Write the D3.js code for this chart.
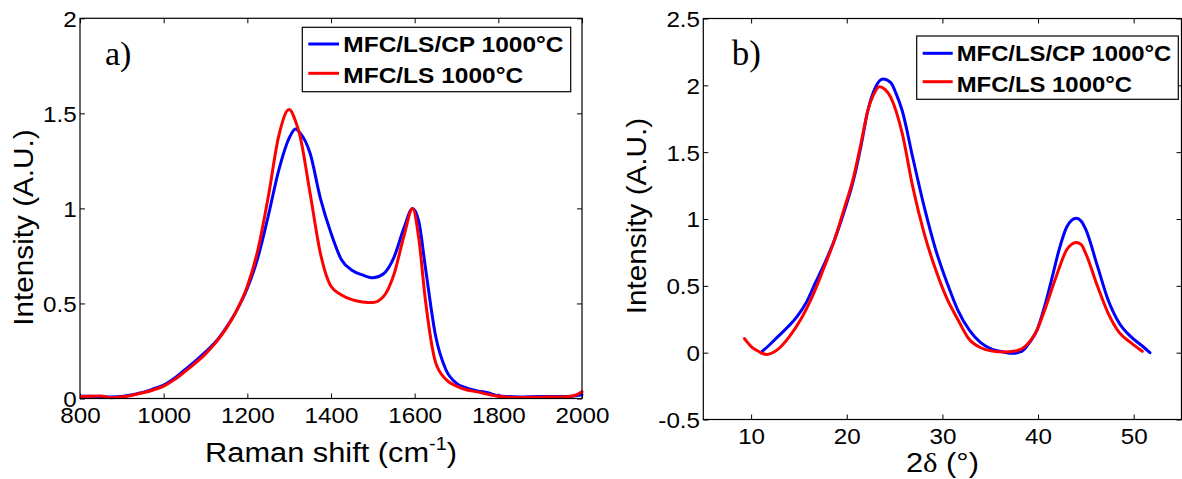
<!DOCTYPE html>
<html><head><meta charset="utf-8">
<script src="https://cdn.jsdelivr.net/npm/d3@7"></script>
<style>
body{margin:0;background:#fff}
svg{display:block}
text{font-family:"Liberation Sans",Arial,sans-serif;fill:#000}
</style>
</head><body>
<svg id="c" width="1182" height="479"></svg>
<script>
// ---------- data ----------
const seriesNames = ["MFC/LS/CP 1000°C", "MFC/LS 1000°C"];
const seriesColors = ["#0000ff", "#ff0000"];

// Panel a: Raman spectra
const ramanX = [800, 825, 850, 875, 900, 925, 950, 975, 1000, 1025, 1050, 1075, 1100, 1125, 1150, 1175, 1200, 1225, 1250, 1275, 1300, 1315, 1325, 1350, 1375, 1400, 1425, 1450, 1475, 1500, 1525, 1550, 1575, 1595, 1610, 1625, 1650, 1675, 1700, 1725, 1750, 1775, 1800, 1850, 1900, 1950, 1975, 2000];
const ramanCP = [0.012, 0.012, 0.01, 0.008, 0.01, 0.02, 0.032, 0.05, 0.07, 0.105, 0.15, 0.195, 0.245, 0.3, 0.375, 0.465, 0.58, 0.74, 0.96, 1.2, 1.37, 1.418, 1.4, 1.29, 1.05, 0.87, 0.73, 0.675, 0.65, 0.635, 0.655, 0.74, 0.9, 1.0, 0.93, 0.7, 0.33, 0.15, 0.08, 0.055, 0.04, 0.03, 0.015, 0.008, 0.01, 0.01, 0.012, 0.02];
const ramanLS = [0.01, 0.012, 0.013, 0.004, 0.008, 0.017, 0.03, 0.045, 0.065, 0.098, 0.14, 0.185, 0.235, 0.295, 0.37, 0.465, 0.59, 0.78, 1.06, 1.38, 1.52, 1.46, 1.39, 1.08, 0.76, 0.59, 0.545, 0.52, 0.508, 0.505, 0.535, 0.65, 0.86, 1.0, 0.84, 0.53, 0.19, 0.1, 0.065, 0.045, 0.035, 0.022, 0.012, 0.005, 0.007, 0.008, 0.012, 0.035];
const ramanXTicks = [800, 1000, 1200, 1400, 1600, 1800, 2000];
const ramanYTicks = [0, 0.5, 1, 1.5, 2];

// Panel b: XRD patterns
const xrdCPX = [11.0, 11.8, 12.8, 13.8, 14.8, 15.8, 16.7, 17.7, 18.7, 19.7, 20.7, 21.5, 22.2, 23.0, 23.8, 24.6, 25.2, 25.8, 26.9, 28.1, 29.3, 30.5, 31.6, 32.8, 34.0, 35.2, 36.4, 37.3, 38.3, 39.1, 39.9, 40.7, 41.5, 42.2, 43.0, 43.5, 44.0, 44.5, 45.0, 46.2, 47.3, 48.5, 49.7, 50.9, 51.7];
const xrdCP = [0.0, 0.05, 0.12, 0.19, 0.27, 0.38, 0.52, 0.67, 0.84, 1.05, 1.29, 1.55, 1.81, 1.985, 2.047, 2.02, 1.93, 1.81, 1.46, 1.09, 0.77, 0.52, 0.32, 0.17, 0.075, 0.025, 0.005, -0.005, 0.01, 0.075, 0.17, 0.35, 0.57, 0.77, 0.94, 0.99, 1.005, 0.985, 0.92, 0.65, 0.4, 0.22, 0.12, 0.05, 0.0];
const xrdLSX = [9.3, 10.1, 10.9, 11.6, 12.8, 14.0, 15.2, 16.7, 17.7, 18.7, 19.7, 20.7, 21.5, 22.2, 22.8, 23.4, 24.0, 24.6, 25.8, 26.9, 28.1, 29.3, 30.5, 31.6, 32.8, 34.0, 35.2, 36.4, 37.6, 38.7, 39.9, 40.7, 41.9, 43.0, 43.5, 44.0, 44.5, 45.0, 46.2, 47.3, 48.5, 49.7, 50.9];
const xrdLS = [0.105, 0.04, 0.005, -0.013, 0.025, 0.12, 0.25, 0.47, 0.65, 0.84, 1.07, 1.31, 1.57, 1.81, 1.93, 1.99, 1.97, 1.91, 1.64, 1.24, 0.89, 0.62, 0.4, 0.25, 0.1, 0.037, 0.012, 0.005, 0.012, 0.05, 0.17, 0.32, 0.57, 0.77, 0.81, 0.824, 0.81, 0.74, 0.5, 0.3, 0.15, 0.075, 0.01];
const xrdXTicks = [10, 20, 30, 40, 50];
const xrdYTicks = [-0.5, 0, 0.5, 1, 1.5, 2, 2.5];

// ---------- drawing ----------
const svg = d3.select("#c");
svg.append("rect").attr("width", 1182).attr("height", 479).attr("fill", "#fff");
const STRETCH = 1.1;

function panel(cfg) {
  const x = d3.scaleLinear().domain(cfg.xDomain).range([cfg.left, cfg.right]);
  const y = d3.scaleLinear().domain(cfg.yDomain).range([cfg.bottom, cfg.top]);
  const g = svg.append("g");
  const clipId = "clip" + cfg.id;
  g.append("clipPath").attr("id", clipId).append("rect")
    .attr("x", cfg.left).attr("y", cfg.top - 2)
    .attr("width", cfg.right - cfg.left + 3).attr("height", cfg.bottom - cfg.top + 4);

  // axes (ticks pointing inward)
  const ax = (gen, tr) => g.append("g").attr("transform", tr).call(gen)
    .call(s => s.select(".domain").remove())
    .call(s => s.selectAll("line").attr("stroke", "#000").attr("stroke-width", 1));
  const bottom = ax(d3.axisBottom(x).tickValues(cfg.xTicks).tickSize(-5).tickSizeOuter(0).tickPadding(9).tickFormat(d => String(d)), `translate(0,${cfg.bottom})`);
  bottom.selectAll("text").attr("font-size", 22).attr("transform", `scale(${STRETCH},1)`);
  ax(d3.axisTop(x).tickValues(cfg.xTicks).tickSize(-5).tickSizeOuter(0).tickFormat(""), `translate(0,${cfg.top})`);
  const left = ax(d3.axisLeft(y).tickValues(cfg.yTicks).tickSize(-5).tickSizeOuter(0).tickPadding(3).tickFormat(d => String(d)), `translate(${cfg.left},0)`);
  left.selectAll("text").attr("font-size", 22).attr("dy", "0.36em").attr("transform", `scale(${STRETCH},1)`);
  ax(d3.axisRight(y).tickValues(cfg.yTicks).tickSize(-5).tickSizeOuter(0).tickFormat(""), `translate(${cfg.right},0)`);
  g.selectAll(".tick text").attr("fill", "#000").style("font-family", '"Liberation Sans",Arial,sans-serif');

  // series
  const line = d3.line().x(d => x(d[0])).y(d => y(d[1])).curve(d3.curveMonotoneX);
  cfg.series.forEach((s, i) => {
    g.append("path").datum(d3.zip(s.x, s.y))
      .attr("clip-path", `url(#${clipId})`)
      .attr("fill", "none").attr("stroke", seriesColors[i])
      .attr("stroke-width", 3).attr("stroke-linejoin", "round").attr("stroke-linecap", "round")
      .attr("d", line);
  });

  // frame
  g.append("rect").attr("x", cfg.left).attr("y", cfg.top)
    .attr("width", cfg.right - cfg.left).attr("height", cfg.bottom - cfg.top)
    .attr("fill", "none").attr("stroke", "#000").attr("stroke-width", 1.2);

  // legend
  const L = cfg.legend;
  g.append("rect").attr("x", L.x0).attr("y", L.y0).attr("width", L.x1 - L.x0).attr("height", L.y1 - L.y0)
    .attr("fill", "#fff").attr("stroke", "#000").attr("stroke-width", 1.2);
  seriesNames.forEach((name, i) => {
    g.append("line").attr("x1", L.lx0).attr("x2", L.lx1).attr("y1", L.ly[i]).attr("y2", L.ly[i])
      .attr("stroke", seriesColors[i]).attr("stroke-width", 3);
    g.append("text").attr("transform", `translate(${L.tx},${L.tb[i]}) scale(${L.k},1)`)
      .attr("font-size", 22).attr("font-weight", "bold").text(name);
  });

  // panel letter
  g.append("text").attr("x", cfg.letter.x).attr("y", cfg.letter.y)
    .style("font-family", '"Liberation Serif","Times New Roman",serif')
    .attr("font-size", cfg.letter.size).text(cfg.letter.t);

  // y title
  g.append("text").attr("transform", `translate(${cfg.yTitle.x},${cfg.yTitle.y}) rotate(-90) scale(${STRETCH},1)`)
    .attr("text-anchor", "middle").attr("font-size", 27).text("Intensity (A.U.)");

  // x title
  const xt = g.append("text").attr("transform", `translate(${(cfg.left + cfg.right) / 2},${cfg.xTitleY}) scale(${STRETCH},1)`)
    .attr("text-anchor", "middle").attr("font-size", 28);
  cfg.xTitle(xt);
}

panel({
  id: "a", left: 80, right: 582, top: 18.3, bottom: 398.5,
  xDomain: [800, 2000], yDomain: [0, 2], xTicks: ramanXTicks, yTicks: ramanYTicks,
  series: [{x: ramanX, y: ramanCP}, {x: ramanX, y: ramanLS}],
  legend: {x0: 302.3, x1: 570.7, y0: 27.3, y1: 91.7, lx0: 308.3, lx1: 339, ly: [44, 73.3], tx: 343.3, tb: [52.3, 83.3], k: 1.113},
  letter: {x: 105, y: 65, size: 34, t: "a)"},
  yTitle: {x: 33, y: 227.5},
  xTitleY: 461.7,
  xTitle: t => {
    t.append("tspan").text("Raman shift (cm");
    t.append("tspan").attr("font-size", 18).attr("dy", -12).text("-1");
    t.append("tspan").attr("dy", 12).text(")");
  }
});

panel({
  id: "b", left: 703.3, right: 1181.5, top: 18.5, bottom: 419.5,
  xDomain: [5, 55], yDomain: [-0.5, 2.5], xTicks: xrdXTicks, yTicks: xrdYTicks,
  series: [{x: xrdCPX, y: xrdCP}, {x: xrdLSX, y: xrdLS}],
  legend: {x0: 916.7, x1: 1178.3, y0: 36, y1: 99.3, lx0: 922.7, lx1: 952.7, ly: [53.3, 81.7], tx: 956.7, tb: [60.7, 91.7], k: 1.085},
  letter: {x: 731.7, y: 65, size: 35, t: "b)"},
  yTitle: {x: 646, y: 216},
  xTitleY: 472,
  xTitle: t => {
    t.append("tspan").text("2");
    t.append("tspan").style("font-family", '"Liberation Serif","Times New Roman",serif').text("δ");
    t.append("tspan").text(" (°)");
  }
});
</script>
</body></html>
